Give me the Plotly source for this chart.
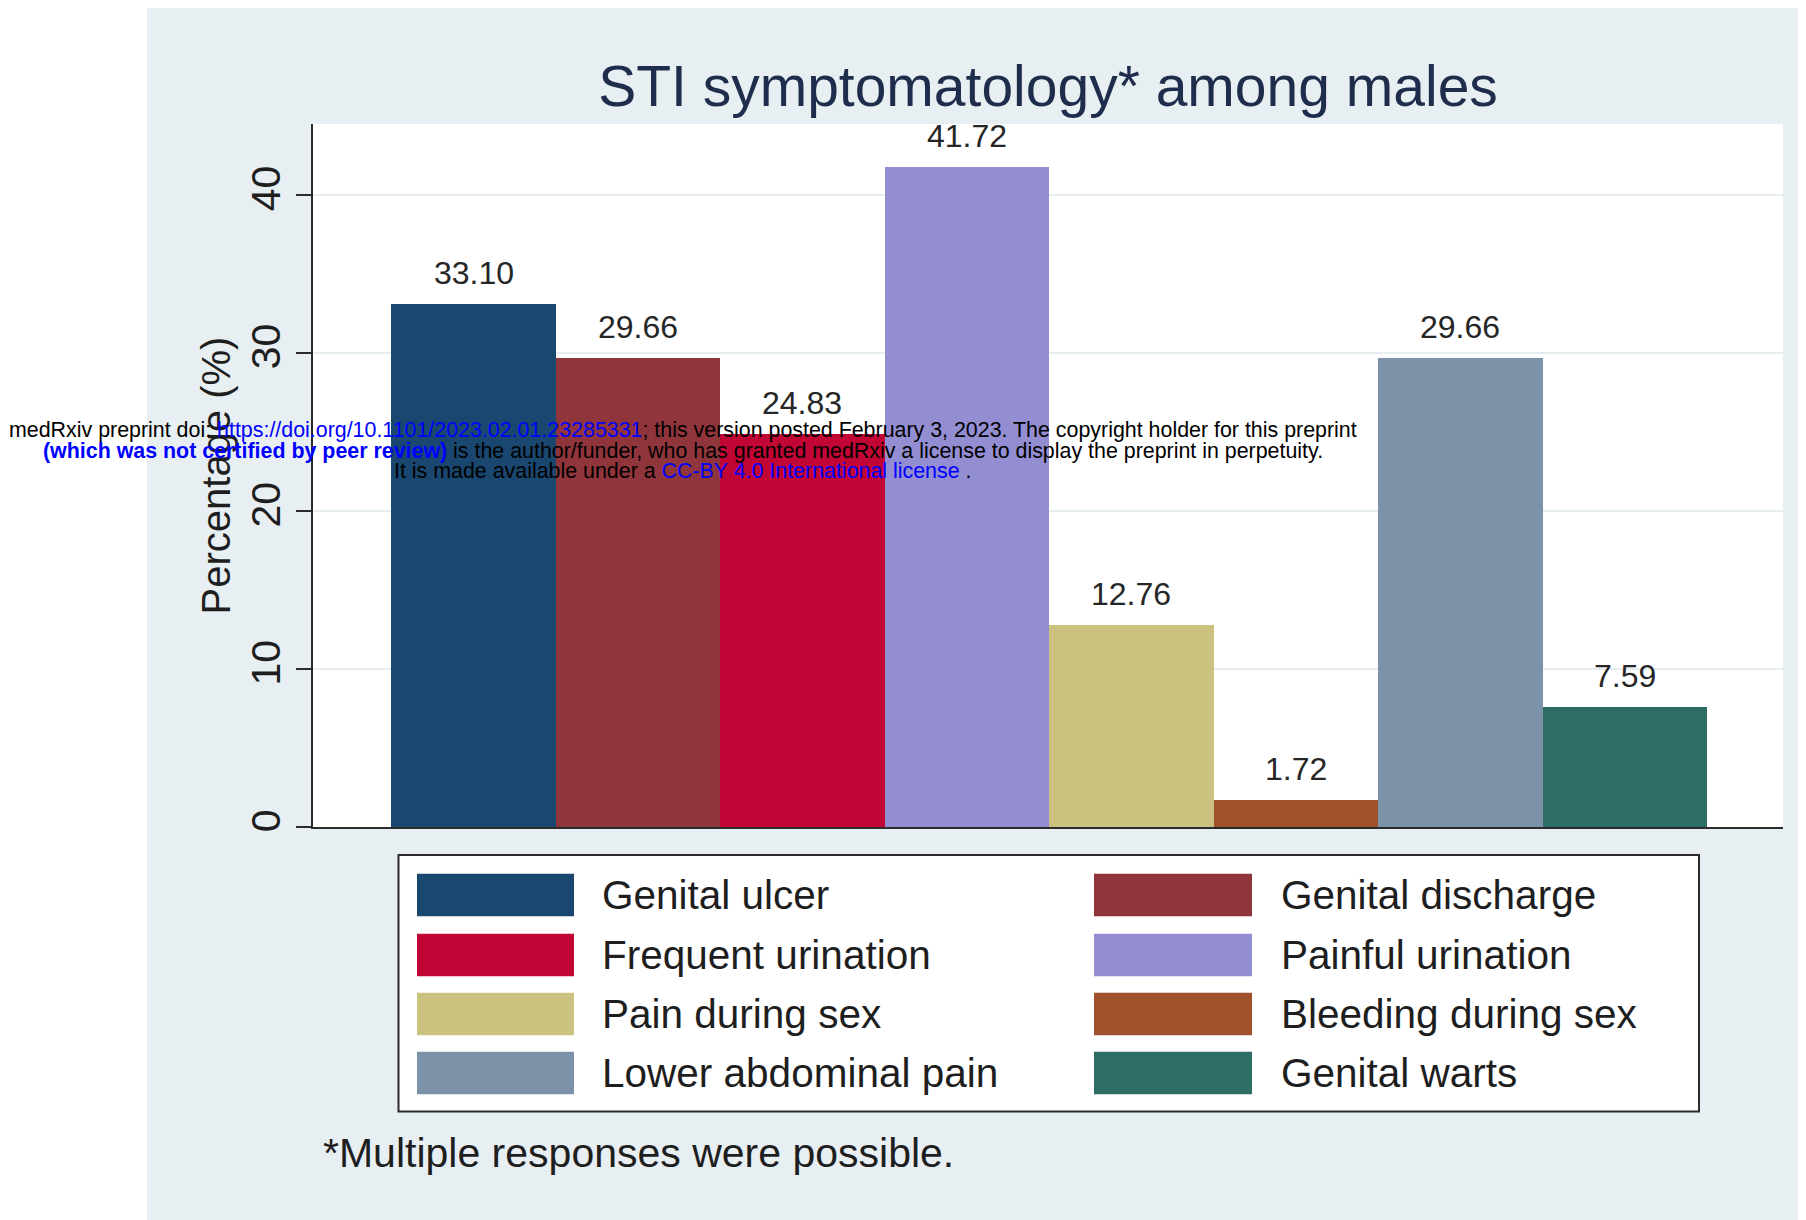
import plotly.graph_objects as go

# ---------------- data ----------------
symptoms = ["Genital ulcer", "Genital discharge", "Frequent urination", "Painful urination",
            "Pain during sex", "Bleeding during sex", "Lower abdominal pain", "Genital warts"]
percentages = [33.10, 29.66, 24.83, 41.72, 12.76, 1.72, 29.66, 7.59]
bar_colors = ["#1a476f", "#90353b", "#c10534", "#938dd2",
              "#cac27e", "#a0522d", "#7b92a8", "#2d6d66"]
y_ticks = [0, 10, 20, 30, 40]
y_tick_labels = ["0", "10", "20", "30", "40"]

title_text = "STI symptomatology* among males"
y_title = "Percentage (%)"
footnote = "*Multiple responses were possible."
watermark_lines = [
    'medRxiv preprint doi: <span style="color:#0000ff">https://doi.org/10.1101/2023.02.01.23285331</span>; '
    'this version posted February 3, 2023. The copyright holder for this preprint',
    '<b><span style="color:#0000ff">(which was not certified by peer review)</span></b> '
    'is the author/funder, who has granted medRxiv a license to display the preprint in perpetuity.',
    'It is made available under a <span style="color:#0000ff">CC-BY 4.0 International license</span> .',
]

# ---------------- layout constants ----------------
OFF = 8                      # default page body margin
W, H = 1806 - OFF, 1220 - OFF
L, R, T, B = 313 - OFF, 23, 124 - OFF, 393
PW, PH = W - L - R, H - T - B
FONT = "Liberation Sans, Arial, Helvetica, sans-serif"
BG = "#e8eff2"
INK = "#1e1e1e"
AXIS = "#2b2b2b"


def px_x(px):
    """window pixel x -> paper coordinate"""
    return (px - OFF - L) / PW


def px_y(py):
    """window pixel y -> paper coordinate"""
    return (H - B - (py - OFF)) / PH


fig = go.Figure()

for name, val, col in zip(symptoms, percentages, bar_colors):
    fig.add_trace(go.Bar(x=[name], y=[val], name=name, marker=dict(color=col, line=dict(width=0)),
                         showlegend=False, hoverinfo="x+y"))

annotations = []
# value labels above bars
for name, val in zip(symptoms, percentages):
    annotations.append(dict(x=name, y=val, xref="x", yref="y", text=f"{val:.2f}",
                            showarrow=False, yanchor="middle", yshift=31,
                            font=dict(family=FONT, size=32, color="#262626")))

# legend (manual, 2 columns x 4 rows, row-major order)
shapes = []
shapes.append(dict(type="rect", xref="paper", yref="paper", layer="above",
                   x0=px_x(398.5), x1=px_x(1699), y0=px_y(1111.5), y1=px_y(855),
                   fillcolor="white", line=dict(color=AXIS, width=2)))
col_sw = [(417, 574), (1094, 1252)]
col_tx = [600, 1278.5]
row_cy = [895, 955, 1014, 1073]
sw_h = 42.6
for i, (name, col) in enumerate(zip(symptoms, bar_colors)):
    r, c = divmod(i, 2)
    shapes.append(dict(type="rect", xref="paper", yref="paper", layer="above",
                       x0=px_x(col_sw[c][0]), x1=px_x(col_sw[c][1]),
                       y0=px_y(row_cy[r] + sw_h / 2), y1=px_y(row_cy[r] - sw_h / 2),
                       fillcolor=col, line=dict(width=0)))
    annotations.append(dict(x=px_x(col_tx[c]), y=px_y(row_cy[r]), xref="paper", yref="paper",
                            text=name, showarrow=False, xanchor="left", yanchor="middle",
                            font=dict(family=FONT, size=40.5, color=INK)))

# white strips outside the grey graph region
shapes.append(dict(type="rect", xref="paper", yref="paper", layer="below",
                   x0=px_x(0), x1=px_x(147), y0=px_y(1230), y1=px_y(0),
                   fillcolor="white", line=dict(width=0)))
shapes.append(dict(type="rect", xref="paper", yref="paper", layer="below",
                   x0=px_x(0), x1=px_x(1820), y0=px_y(7), y1=px_y(0),
                   fillcolor="white", line=dict(width=0)))

# footnote
annotations.append(dict(x=px_x(321), y=px_y(1153), xref="paper", yref="paper",
                        text=footnote, showarrow=False, xanchor="left", yanchor="middle",
                        font=dict(family=FONT, size=41, color=INK)))

# watermark
for line, py in zip(watermark_lines, [430, 450.5, 471]):
    annotations.append(dict(x=px_x(683), y=px_y(py), xref="paper", yref="paper",
                            text=line, showarrow=False, xanchor="center", yanchor="middle",
                            font=dict(family="Liberation Sans, Arial, sans-serif", size=21.4,
                                      color="black")))

fig.update_layout(
    width=W, height=H,
    margin=dict(l=L, r=R, t=T, b=B, pad=0),
    paper_bgcolor=BG, plot_bgcolor="white",
    barmode="overlay", bargap=0,
    title=dict(text=title_text, x=(1048 - OFF) / W, y=1 - (86 - OFF) / H,
               xanchor="center", yanchor="middle",
               font=dict(family=FONT, size=57, color="#1f2d4d")),
    xaxis=dict(type="category", categoryorder="array", categoryarray=symptoms,
               range=[-0.976, 7.962], showticklabels=False, ticks="", showgrid=False,
               showline=True, linecolor=AXIS, linewidth=2, zeroline=False, fixedrange=True),
    yaxis=dict(range=[0, 44.46], tickmode="array", tickvals=y_ticks, ticktext=y_tick_labels,
               ticks="outside", ticklen=15, tickwidth=2, tickcolor=AXIS, tickangle=-90,
               tickfont=dict(family=FONT, size=41, color=INK),
               showgrid=True, gridcolor="#e6edf0", gridwidth=2,
               showline=True, linecolor=AXIS, linewidth=2, zeroline=False,
               title=dict(text=y_title, font=dict(family=FONT, size=40, color=INK), standoff=0)),
    shapes=shapes,
    annotations=annotations,
    showlegend=False,
)

fig.write_html("out.html")
